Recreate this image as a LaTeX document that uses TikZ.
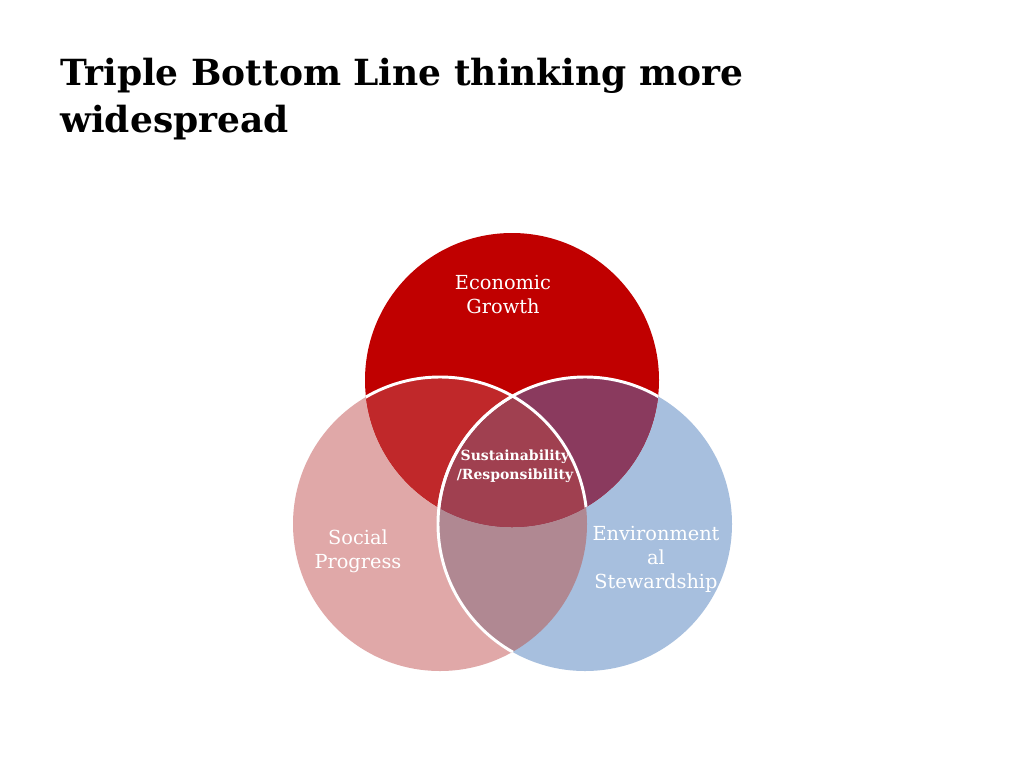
\documentclass[tikz,border=0pt]{standalone}
\usepackage{fontspec}
\setmainfont{DejaVu Serif}
\begin{document}
\begin{tikzpicture}[x=0.75pt,y=-0.75pt,
  lbl/.style={text=white,align=center,font=\fontsize{14.5}{18}\selectfont},
  ring/.style={draw=white,line width=2.2pt}]
\useasboundingbox (0,0) rectangle (1024,768);
\def\R{110.25pt}
\coordinate (T) at (512,380);
\coordinate (L) at (440,524);
\coordinate (Rt) at (585,524);
\fill[white] (0,0) rectangle (1024,768);
\fill[color={rgb,255:red,224;green,168;blue,168}] (L) circle[radius=\R];
\fill[color={rgb,255:red,167;green,191;blue,222}] (Rt) circle[radius=\R];
\fill[color={rgb,255:red,192;green,0;blue,0}] (T) circle[radius=\R];
\begin{scope}\clip (L) circle[radius=\R]; \fill[color={rgb,255:red,176;green,136;blue,146}] (Rt) circle[radius=\R];\end{scope}
\begin{scope}\clip (L) circle[radius=\R]; \fill[color={rgb,255:red,192;green,40;blue,42}] (T) circle[radius=\R];\end{scope}
\begin{scope}\clip (Rt) circle[radius=\R]; \fill[color={rgb,255:red,138;green,58;blue,94}] (T) circle[radius=\R];\end{scope}
\begin{scope}\clip (Rt) circle[radius=\R]; \clip (L) circle[radius=\R]; \fill[color={rgb,255:red,160;green,64;blue,80}] (T) circle[radius=\R];\end{scope}
\begin{scope}\clip (T) circle[radius=\R];
\draw[ring] (L) circle[radius=\R]; \draw[ring] (Rt) circle[radius=\R];\end{scope}
\begin{scope}\clip (L) circle[radius=\R];\draw[ring] (Rt) circle[radius=\R];\end{scope}
\node[anchor=north west,align=left,font=\bfseries\fontsize{27}{35}\selectfont,inner sep=0] (title) at (60,58) {Triple Bottom Line thinking more\\widespread};
\node[lbl] (eco) at (503,295) {Economic\\Growth};
\node[lbl] (soc) at (358,551) {Social\\Progress};
\node[lbl] (env) at (656,559) {Environment\\al\\Stewardship};
\node[text=white,align=center,font=\bfseries\fontsize{10.5}{14}\selectfont] (sus) at (515,466) {Sustainability\\/Responsibility};
\end{tikzpicture}
\end{document}
